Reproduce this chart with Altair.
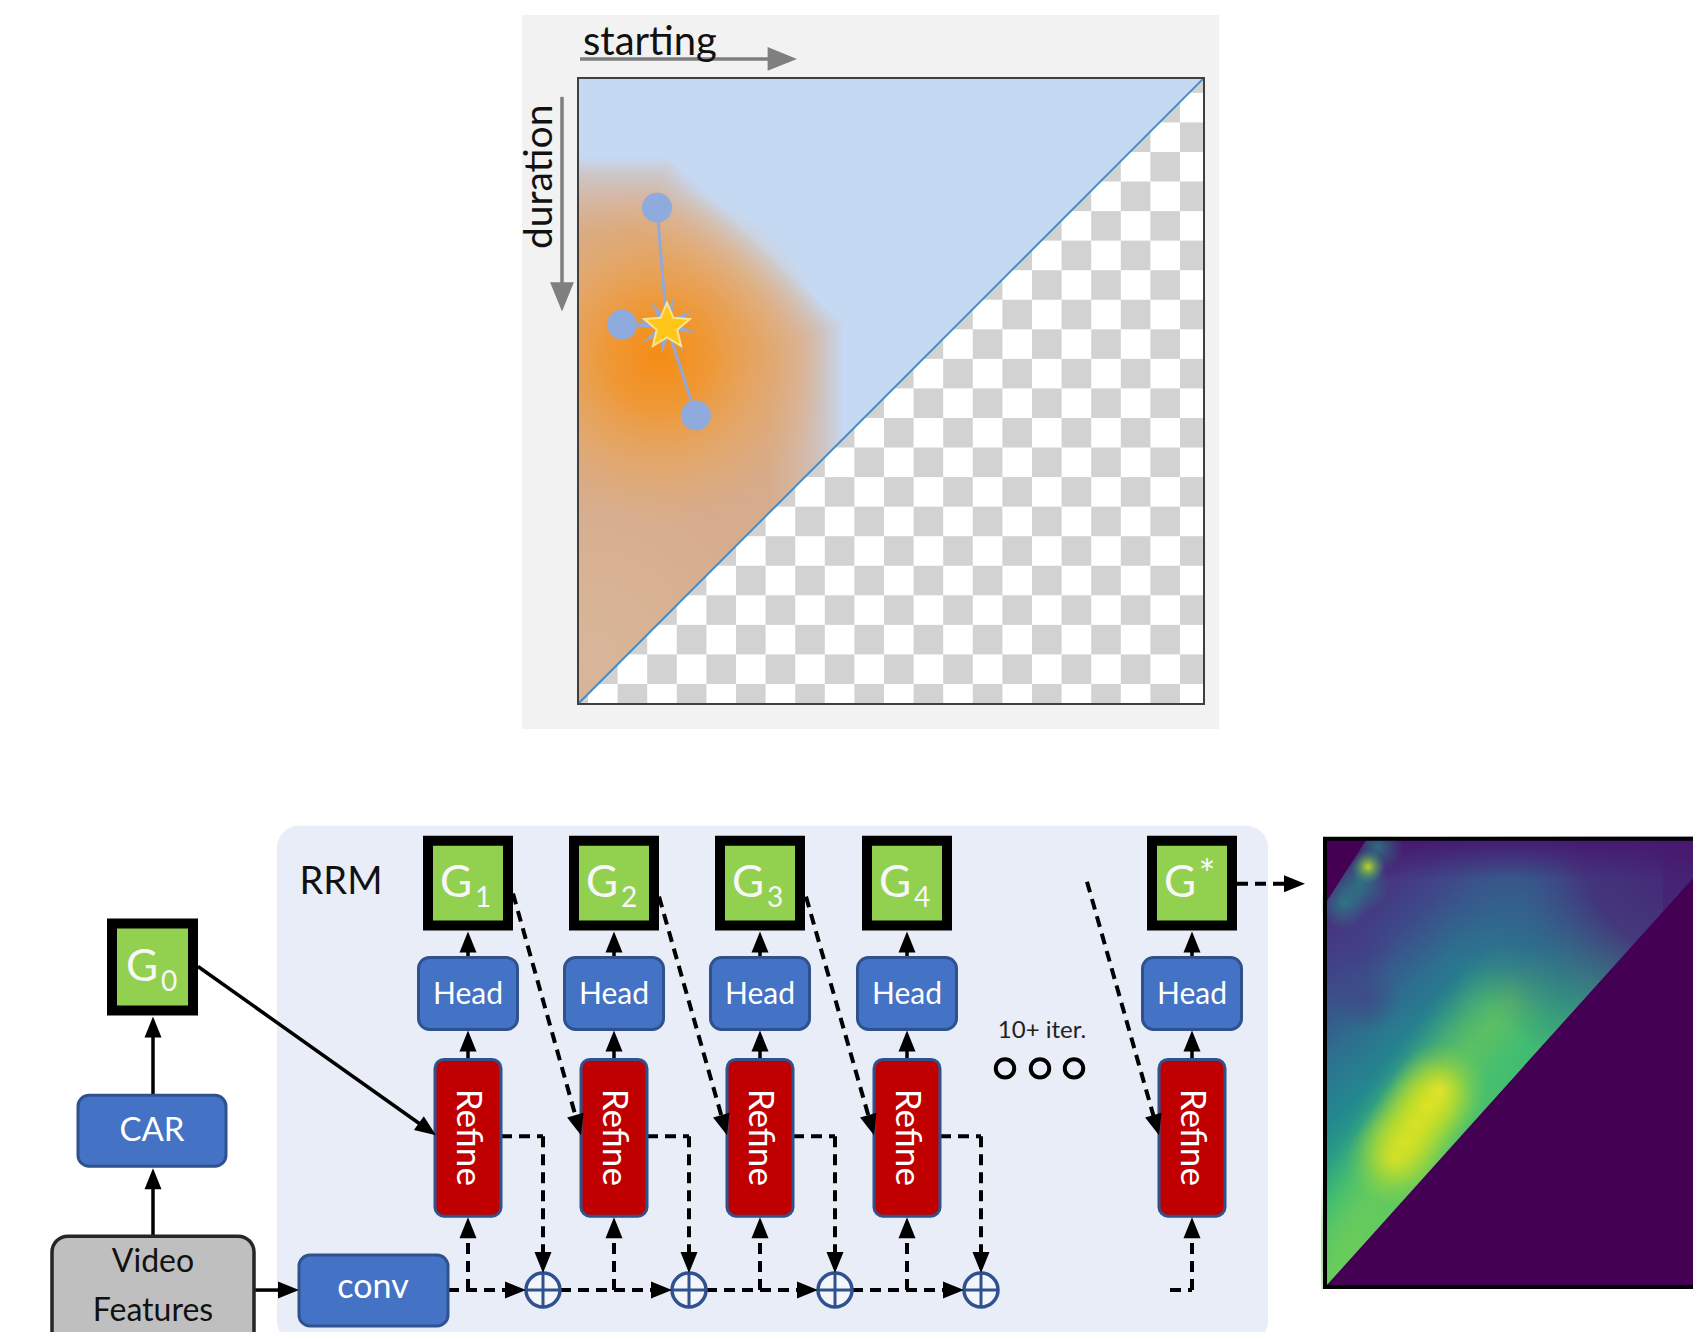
import math
import altair as alt
import pandas as pd

# ---------------- canvas ----------------
W, H = 1685, 1324
XS = alt.Scale(domain=[8, 1693], nice=False, zero=False)
YS = alt.Scale(domain=[8, 1334], nice=False, zero=False, reverse=True)
FONT = "Lato"

# ---------------- data (pixel layout units) ----------------
# top panel
top_bg = [522, 1219, 15, 730]
square = [578, 1204, 78, 705]
checker_start = [588, 93]
checker_cell = 29.6
dot_x = [657, 622, 696]
dot_y = [208, 325, 416]
star_x, star_y = 667, 327
blob_top_y = 195             # upper edge of the orange/tan cloud
blob_knee = [655, 806, 338]  # x where the top edge bends, right edge x, y of right corner
starting_label = ["starting", 583, 55]
duration_label = ["duration", 540, 177]

# bottom diagram
col_cx = [468, 614, 760, 907, 1192]
col_sub = ["1", "2", "3", "4", "*"]
g_half, g_top, g_bot = 45, 837, 932
head_half, head_top, head_bot = 49.5, 959, 1031
ref_half, ref_top, ref_bot = 33, 1061, 1218
g0_box = [107, 198, 920, 1017]
car_box = [78, 226, 1097, 1168]
conv_box = [299, 448, 1257, 1328]
video_box = [52, 254, 1238, 1362]
panel_box = [277, 1268, 827, 1345]
plus_x = [543, 689, 835, 981]
plus_y = 1292
plus_r = 17
dots3_x = [1005, 1040, 1074]
dots3_y = 1070

# heatmap
heat_box = [1325, 1800, 840, 1289]
heat_diag = [[1327, 1287], [1760, 805]]
ridge_x = [1333, 1345, 1357, 1370, 1383, 1396, 1408, 1420, 1435, 1452, 1470, 1490, 1510]
ridge_y = [1272, 1250, 1228, 1205, 1183, 1160, 1137, 1115, 1095, 1073, 1050, 1028, 1005]
peak_x = [1395, 1405, 1417, 1428, 1440]
peak_y = [1160, 1143, 1125, 1108, 1092]
streak_x = [1368, 1378, 1360, 1343]
streak_y = [868, 848, 885, 905]
shadow_x = [1360, 1366]
shadow_y = [950, 1000]

# colours
BLUE = "#4472C4"
BLUE_D = "#2F528F"
RED = "#C00000"
GREEN = "#92D050"
PANEL = "#E8EDF7"


# ---------------- helpers ----------------
def X(f):
    return alt.X(f, scale=XS, axis=None)


def Y(f):
    return alt.Y(f, scale=YS, axis=None)


def rect_layer(rows, **mk):
    df = pd.DataFrame(rows, columns=["x0", "x1", "y0", "y1"])
    return alt.Chart(df).mark_rect(**mk).encode(
        x=X("x0:Q"), x2="x1:Q", y=Y("y0:Q"), y2="y1:Q")


def rule_layer(rows, **mk):
    df = pd.DataFrame(rows, columns=["x0", "y0", "x1", "y1"])
    return alt.Chart(df).mark_rule(**mk).encode(
        x=X("x0:Q"), y=Y("y0:Q"), x2="x1:Q", y2="y1:Q")


def point_layer(rows, **mk):
    df = pd.DataFrame(rows, columns=["x", "y", "s", "a"])
    mk.setdefault("opacity", 1)
    return alt.Chart(df).mark_point(**mk).encode(
        x=X("x:Q"), y=Y("y:Q"),
        size=alt.Size("s:Q", scale=None),
        angle=alt.Angle("a:Q", scale=None))


def text_layer(rows, **mk):
    df = pd.DataFrame(rows, columns=["x", "y", "t"])
    mk.setdefault("font", FONT)
    return alt.Chart(df).mark_text(**mk).encode(x=X("x:Q"), y=Y("y:Q"), text="t:N")


def poly_layer(rows, **mk):
    df = pd.DataFrame(rows, columns=["x", "y", "y2"])
    return alt.Chart(df).mark_area(orient="vertical", **mk).encode(
        x=X("x:Q"), y=Y("y:Q"), y2="y2:Q")


def radial(stops, x=0.5, y=0.5, r=0.5):
    return {"gradient": "radial", "x1": x, "y1": y, "r1": 0, "x2": x, "y2": y, "r2": r,
            "stops": [{"offset": o, "color": c} for o, c in stops]}


def linear(stops, x1, y1, x2, y2):
    return {"gradient": "linear", "x1": x1, "y1": y1, "x2": x2, "y2": y2,
            "stops": [{"offset": o, "color": c} for o, c in stops]}


def star_path(n, r_in):
    pts = []
    for k in range(2 * n):
        ang = math.pi * k / n - math.pi / 2
        r = 1 if k % 2 == 0 else r_in
        pts.append(f"{r * math.cos(ang):.3f},{r * math.sin(ang):.3f}")
    return "M" + "L".join(pts) + "Z"


HEAD = "M0,0L0.85,2.1L-0.85,2.1Z"   # arrow head, tip at origin, pointing up


def arrow_parts(arrows, back=14):
    segs, heads = [], []
    for x0, y0, x1, y1 in arrows:
        dx, dy = x1 - x0, y1 - y0
        L = math.hypot(dx, dy)
        ux, uy = dx / L, dy / L
        segs.append([x0, y0, x1 - ux * back, y1 - uy * back])
        ang = math.degrees(math.atan2(ux, -uy)) % 360
        heads.append([x1, y1, 400, ang])
    return segs, heads


def sq_diag(x):
    return square[3] - (x - square[0]) * (square[3] - square[2]) / (square[1] - square[0])


def heat_d(x):
    (xa, ya), (xb, yb) = heat_diag
    return ya + (x - xa) * (yb - ya) / (xb - xa)


layers = []

# ================= TOP PANEL =================
layers.append(rect_layer([top_bg], color="#F2F2F2"))
layers.append(rect_layer([square], color="#FFFFFF"))

checks = []
for c in range(-1, 21):
    for r in range(-1, 22):
        if (c + r) % 2 == 1:
            x0 = max(square[0], checker_start[0] + checker_cell * c)
            x1 = min(square[1], checker_start[0] + checker_cell * (c + 1))
            y0 = max(square[2], checker_start[1] + checker_cell * r)
            y1 = min(square[3], checker_start[1] + checker_cell * (r + 1))
            if x1 > x0 and y1 > y0:
                checks.append([x0, x1, y0, y1])
layers.append(rect_layer(checks, color="#D2D2D2"))

tri = [[square[0], square[2], square[3]], [square[1], square[2], square[2]]]
layers.append(poly_layer(tri, color="#C6D9F3"))

# soft-edged cloud: stacked translucent polygons
cloud = []
for k, d in enumerate(range(36, -39, -3)):
    kx, rx, ry = blob_knee
    xs = [square[0], kx + 0.4 * d, rx + d]
    ys = [blob_top_y - d, blob_top_y - d, ry - 0.4 * d]
    for x, y in zip(xs, ys):
        cloud.append([x, y, sq_diag(x), k])
cdf = pd.DataFrame(cloud, columns=["x", "y", "y2", "k"])
layers.append(alt.Chart(cdf).mark_area(orient="vertical", color="#E1AE7C", opacity=0.07).encode(
    x=X("x:Q"), y=Y("y:Q"), y2="y2:Q", detail="k:N"))
# bottom-left tan tint
layers.append(poly_layer(tri, fill=radial([
    (0, "rgba(216,184,156,0.85)"), (0.6, "rgba(218,182,150,0.5)"),
    (1, "rgba(218,182,150,0)")], x=0.02, y=0.92, r=0.28)))
# orange core around the star
layers.append(poly_layer(tri, fill=radial([
    (0, "rgba(245,140,20,1)"), (0.3, "rgba(243,148,38,0.85)"),
    (0.65, "rgba(240,162,72,0.45)"), (1, "rgba(236,170,100,0)")],
    x=(star_x - 8 - square[0]) / 626, y=(star_y + 30 - square[2]) / 627, r=0.27)))

layers.append(rule_layer([[square[0], square[3], square[1], square[2]]],
                         color="#4A8BC2", strokeWidth=2))
layers.append(rect_layer([square], fill="transparent", stroke="#3F3F3F", strokeWidth=2))

# axis arrows
layers.append(rule_layer([[580, 59, 772, 59], [562, 97, 562, 288]],
                         color="#7F7F7F", strokeWidth=3.5))
layers.append(point_layer([[797, 59, 784, 90], [562, 312, 784, 180]],
                          shape=HEAD, filled=True, color="#7F7F7F", strokeWidth=0))
layers.append(text_layer([[starting_label[1], starting_label[2], starting_label[0]]],
                         fontSize=40, align="left", baseline="alphabetic", color="#111111"))
layers.append(text_layer([[duration_label[1], duration_label[2], duration_label[0]]],
                         fontSize=39, angle=270, align="center", baseline="middle",
                         color="#111111"))

# points connected to the star
layers.append(rule_layer([[dx, dy, star_x, star_y] for dx, dy in zip(dot_x, dot_y)],
                         color="#8FAADC", strokeWidth=3))
layers.append(point_layer([[dx, dy, 900, 0] for dx, dy in zip(dot_x, dot_y)],
                          shape="circle", filled=True, color="#8FAADC", strokeWidth=0))
layers.append(point_layer([[star_x, star_y, 3600, 12]], shape=star_path(8, 0.3),
                          filled=True, color="#8FAADC", strokeWidth=0))
layers.append(point_layer([[star_x, star_y, 2304, 0]], shape=star_path(5, 0.45),
                          filled=True, fill="#FFC61A", stroke="#FFE38A", strokeWidth=2))

# ================= HEATMAP =================
layers.append(rect_layer([heat_box], color="#440154", clip=True))
colored = [[1327, 897, heat_d(1327)], [1368, 840, heat_d(1368)], [1663, 840, heat_d(1663)]]
layers.append(poly_layer(colored, clip=True, fill=linear([
    (0, "#8FD744"), (0.25, "#5EC962"), (0.4, "#2FB47C"), (0.55, "#23898E"),
    (0.67, "#2D708E"), (0.8, "#3E4A89"), (0.9, "#453781"), (1, "#482475")],
    0.55, 0.95, 0.0, 0.1)))


def glow(xs, ys, ds, stops):
    return point_layer([[x, y, d ** 2, 0] for x, y, d in zip(xs, ys, ds)],
                       shape="circle", filled=True, strokeWidth=0, clip=True,
                       fill=radial(stops))


layers.append(glow(ridge_x, ridge_y, [120] * len(ridge_x),
                   [(0, "rgba(122,209,81,0.45)"), (0.5, "rgba(110,206,88,0.22)"),
                    (1, "rgba(94,201,98,0)")]))
layers.append(glow(peak_x, peak_y, [95] * len(peak_x),
                   [(0, "rgba(253,231,37,0.75)"), (0.4, "rgba(220,227,25,0.45)"),
                    (1, "rgba(160,218,57,0)")]))
layers.append(glow([1700], [840], [540],
                   [(0, "rgba(70,30,115,1)"), (0.45, "rgba(70,45,123,0.9)"),
                    (0.7, "rgba(62,74,137,0.5)"), (1, "rgba(59,82,139,0)")]))
layers.append(rect_layer([[1327, 1800, 840, 880]], clip=True, fill=linear([
    (0, "rgba(70,24,110,0.95)"), (1, "rgba(70,24,110,0)")], 0, 0, 0, 1)))
layers.append(glow(shadow_x, shadow_y, [70, 70],
                   [(0, "rgba(68,57,131,0.5)"), (1, "rgba(68,57,131,0)")]))
layers.append(glow(streak_x[1:], streak_y[1:], [50, 60, 50],
                   [(0, "rgba(31,158,137,0.6)"), (1, "rgba(31,158,137,0)")]))
layers.append(glow(streak_x[:1], streak_y[:1], [34],
                   [(0, "rgba(215,226,27,0.9)"), (0.5, "rgba(120,205,80,0.45)"),
                    (1, "rgba(53,183,121,0)")]))
# purple outside the colored region
layers.append(poly_layer([[1327, heat_diag[0][1], heat_box[3]], [1760, heat_diag[1][1], heat_box[3]]],
                         color="#440154", clip=True))
layers.append(poly_layer([[1327, 840, 902], [1367, 840, 840]], color="#440154", clip=True))
# white around the heatmap (hides glow overflow)
layers.append(rect_layer([[1225, 1800, 480, 838], [1269, 1321, 838, 1345],
                          [1269, 1800, 1291, 1345]], color="white", clip=True))
layers.append(rect_layer([heat_box], fill="transparent", stroke="black", strokeWidth=4, clip=True))

# ================= BOTTOM DIAGRAM =================
layers.append(rect_layer([panel_box], color=PANEL, cornerRadius=22))
layers.append(text_layer([[341, 884, "RRM"]], fontSize=38, color="#111111",
                         align="center", baseline="middle"))

solid_arrows = [[153, 1238, 153, 1170], [153, 1097, 153, 1018],
                [254, 1292, 299, 1292], [198, 968, 436, 1137]]
for cx in col_cx:
    solid_arrows.append([cx, head_top, cx, g_bot + 1])
    solid_arrows.append([cx, ref_top, cx, head_bot + 1])

dashed_arrows = [[513, 895, col_cx[1] - ref_half, 1137],
                 [659, 898, col_cx[2] - ref_half, 1137],
                 [806, 898, col_cx[3] - ref_half, 1137],
                 [1087, 883, col_cx[4] - ref_half, 1137],
                 [1237, 885, 1305, 885],
                 [448, plus_y, plus_x[0] - plus_r, plus_y]]
for i in range(3):
    dashed_arrows.append([plus_x[i] + plus_r, plus_y, plus_x[i + 1] - plus_r, plus_y])
for cx in col_cx:
    dashed_arrows.append([cx, plus_y, cx, ref_bot + 1])
for cx, px in zip(col_cx, plus_x):
    dashed_arrows.append([px, 1138, px, plus_y - plus_r])
dashed_plain = [[cx + ref_half, 1138, px, 1138] for cx, px in zip(col_cx, plus_x)]
dashed_plain.append([1170, plus_y, col_cx[4], plus_y])

s_segs, s_heads = arrow_parts(solid_arrows)
d_segs, d_heads = arrow_parts(dashed_arrows)
layers.append(rule_layer(s_segs, color="black", strokeWidth=3.5))
layers.append(rule_layer(d_segs + dashed_plain, color="black", strokeWidth=4,
                         strokeDash=[11, 7]))

# boxes
g_rows = [[cx - g_half + 5, cx + g_half - 5, g_top + 5, g_bot - 5] for cx in col_cx]
g_rows.append([g0_box[0] + 5, g0_box[1] - 5, g0_box[2] + 5, g0_box[3] - 5])
layers.append(rect_layer(g_rows, fill=GREEN, stroke="black", strokeWidth=10))
layers.append(rect_layer([[cx - head_half, cx + head_half, head_top, head_bot] for cx in col_cx]
                         + [car_box, conv_box],
                         fill=BLUE, stroke=BLUE_D, strokeWidth=3, cornerRadius=11))
layers.append(rect_layer([[cx - ref_half, cx + ref_half, ref_top, ref_bot] for cx in col_cx],
                         fill=RED, stroke=BLUE_D, strokeWidth=3, cornerRadius=9))
layers.append(rect_layer([video_box], fill="#BFBFBF", stroke="#262626", strokeWidth=3.5,
                         cornerRadius=16))

# plus nodes
layers.append(point_layer([[px, plus_y, (2 * plus_r) ** 2, 0] for px in plus_x],
                          shape="circle", filled=True, fill="#F4F6FB", stroke=BLUE_D,
                          strokeWidth=3.5))
cross = []
for px in plus_x:
    cross.append([px - plus_r, plus_y, px + plus_r, plus_y])
    cross.append([px, plus_y - plus_r, px, plus_y + plus_r])
layers.append(rule_layer(cross, color=BLUE_D, strokeWidth=3))

layers.append(point_layer(s_heads + d_heads, shape=HEAD, filled=True, color="black",
                          strokeWidth=0))

# "10+ iter." and ellipsis circles
layers.append(text_layer([[1042, 1033, "10+ iter."]], fontSize=24, color="#222222",
                         align="center", baseline="middle"))
layers.append(point_layer([[x, dots3_y, 340, 0] for x in dots3_x], shape="circle",
                          filled=False, color="black", strokeWidth=4))

# box labels
layers.append(text_layer([[cx - 12, 885, "G"] for cx in col_cx] + [[142, 969, "G"]],
                         fontSize=44, color="#F7F7F7", align="center", baseline="middle"))
layers.append(text_layer([[cx + 15, 900, s] for cx, s in zip(col_cx[:4], col_sub[:4])]
                         + [[169, 984, "0"]],
                         fontSize=28, color="#F7F7F7", align="center", baseline="middle"))
layers.append(text_layer([[col_cx[4] + 15, 878, "*"]], fontSize=40, color="#F7F7F7",
                         align="center", baseline="middle"))
layers.append(text_layer([[cx, 996, "Head"] for cx in col_cx], fontSize=30, color="white",
                         align="center", baseline="middle"))
layers.append(text_layer([[cx, 1139, "Refine"] for cx in col_cx], fontSize=35, color="white",
                         angle=90, align="center", baseline="middle"))
layers.append(text_layer([[152, 1133, "CAR"]], fontSize=33, color="white",
                         align="center", baseline="middle"))
layers.append(text_layer([[373, 1290, "conv"]], fontSize=34, color="white",
                         align="center", baseline="middle"))
layers.append(text_layer([[153, 1264, "Video"], [153, 1313, "Features"]], fontSize=32,
                         color="#111111", align="center", baseline="middle"))

chart = alt.layer(*layers).properties(
    width=W, height=H, autosize=alt.AutoSizeParams(type="none"), padding=0,
    view=alt.ViewBackground(stroke="transparent", strokeWidth=0)
).configure_view(strokeWidth=0, stroke="transparent").configure(background="white")

chart.save("out.html", embed_options={"renderer": "svg", "actions": False})
